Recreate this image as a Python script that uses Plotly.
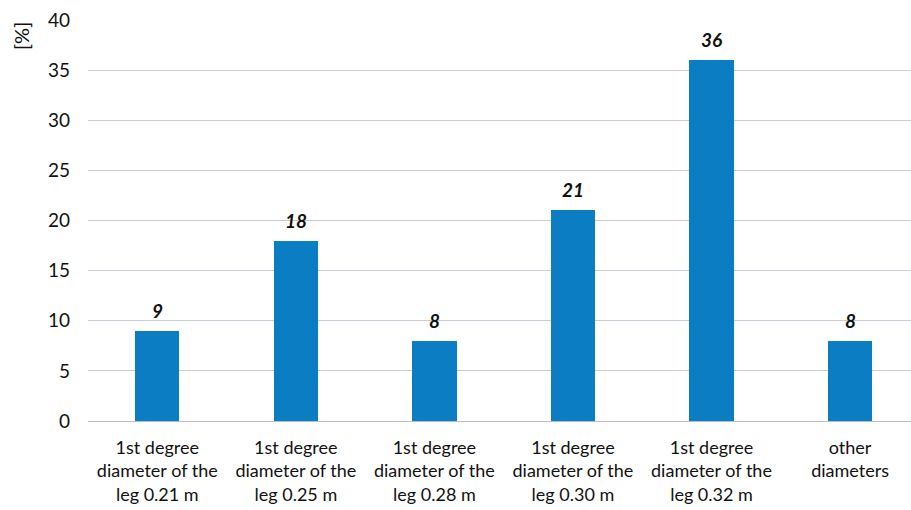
import plotly.graph_objects as go

categories = [
    "1st degree<br>diameter of the<br>leg 0.21 m",
    "1st degree<br>diameter of the<br>leg 0.25 m",
    "1st degree<br>diameter of the<br>leg 0.28 m",
    "1st degree<br>diameter of the<br>leg 0.30 m",
    "1st degree<br>diameter of the<br>leg 0.32 m",
    "other<br>diameters",
]
shares = [9, 18, 8, 21, 36, 8]
y_ticks = [0, 5, 10, 15, 20, 25, 30, 35, 40]

FONT = "Lato, Open Sans, sans-serif"
BAR_COLOR = "#0A7DC3"

x_pos = list(range(len(categories)))

fig = go.Figure(
    go.Bar(
        x=x_pos,
        y=shares,
        width=0.32,
        marker=dict(color=BAR_COLOR, line=dict(width=0)),
        hoverinfo="skip",
    )
)

# value labels above each bar
for xi, v in zip(x_pos, shares):
    fig.add_annotation(
        x=xi, y=v, xref="x", yref="y",
        text=f"<b><i>{v}</i></b>",
        showarrow=False, yanchor="bottom", yshift=7,
        font=dict(family=FONT, size=19, color="#111111"),
    )

# unit label, placed in pixel terms converted to paper coords
fig.add_annotation(
    x=(21 - 88) / 823, y=(510 - 89 - 36) / 401,
    xref="paper", yref="paper", xanchor="center", yanchor="middle",
    text="[%]", textangle=-90, showarrow=False,
    font=dict(family=FONT, size=20, color="#111111"),
)

fig.update_layout(
    width=911, height=510,
    margin=dict(l=88, r=0, t=20, b=89, autoexpand=False),
    paper_bgcolor="white", plot_bgcolor="white",
    showlegend=False,
    bargap=0,
    xaxis=dict(
        range=[-0.5, 5.44],
        tickmode="array", tickvals=x_pos, ticktext=categories,
        showgrid=False, zeroline=False, showline=False, ticks="",
        tickfont=dict(family=FONT, size=18, color="#111111"),
        ticklabelstandoff=14,
        fixedrange=True,
    ),
    yaxis=dict(
        range=[0, 40],
        tickmode="array", tickvals=y_ticks,
        showgrid=True, gridcolor="#C5CDD4", gridwidth=1,
        zeroline=True, zerolinecolor="#B8BEC4", zerolinewidth=1,
        showline=False, ticks="",
        tickfont=dict(family=FONT, size=19, color="#111111"),
        ticklabelstandoff=17,
        fixedrange=True,
    ),
)

fig.write_html("out.html", config={"displayModeBar": False})
